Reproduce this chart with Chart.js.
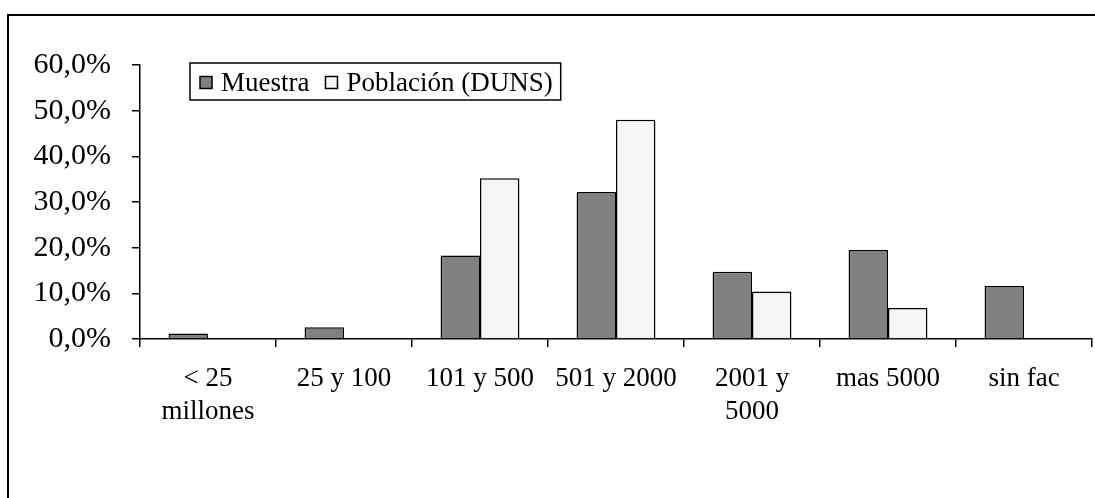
<!DOCTYPE html>
<html>
<head>
<meta charset="utf-8">
<script src="https://cdn.jsdelivr.net/npm/chart.js@4.4.1/dist/chart.umd.min.js"></script>
<style>
  html, body { margin: 0; padding: 0; background: #fff; }
  #wrap { position: relative; width: 1095px; height: 498px; }
  canvas { display: block; }
</style>
</head>
<body>
<div id="wrap"><canvas id="c" width="1095" height="498"></canvas></div>
<script>
// Facturación (millones) por tramo: muestra frente a población DUNS, en %
const categories = [['< 25', 'millones'], '25 y 100', '101 y 500', '501 y 2000', ['2001 y', '5000'], 'mas 5000', 'sin fac'];
const seriesNames = ['Muestra', 'Población (DUNS)'];
const muestra = [1.2, 2.6, 18.3, 32.2, 14.7, 19.5, 11.6];
const poblacion = [null, null, 35.2, 48.0, 10.4, 6.8, null];
const yTickValues = [0, 10, 20, 30, 40, 50, 60];

const FONT = '"Liberation Serif", "Times New Roman", serif';
const fmtPct = v => v.toFixed(1).replace('.', ',') + '%';

// white page plus the outer frame (left and top edges)
const framePlugin = {
  id: 'frame',
  beforeDraw(chart) {
    const ctx = chart.ctx;
    ctx.save();
    ctx.fillStyle = '#fff';
    ctx.fillRect(0, 0, chart.width, chart.height);
    ctx.restore();
  },
  afterDraw(chart) {
    const ctx = chart.ctx;
    ctx.save();
    ctx.strokeStyle = '#000';
    ctx.lineWidth = 2;
    ctx.beginPath();
    ctx.moveTo(8, chart.height);
    ctx.lineTo(8, 15);
    ctx.lineTo(chart.width, 15);
    ctx.stroke();
    ctx.restore();
  }
};

// boxed legend inside the plot, built from the datasets
const boxLegend = {
  id: 'boxLegend',
  afterDraw(chart) {
    const ctx = chart.ctx;
    const x0 = 190, y0 = 63, h = 37;
    const sw = 12, gapText = 9, gapItem = 16, padL = 10, padR = 8;
    ctx.save();
    ctx.font = '27px ' + FONT;
    ctx.textBaseline = 'middle';
    const items = chart.data.datasets.map(ds => ({ label: ds.label, fill: ds.backgroundColor, w: ctx.measureText(ds.label).width }));
    let total = padL + padR;
    items.forEach((it, i) => { total += sw + gapText + it.w + (i < items.length - 1 ? gapItem : 0); });
    ctx.fillStyle = '#fff';
    ctx.fillRect(x0, y0, total, h);
    ctx.strokeStyle = '#000';
    ctx.lineWidth = 1.5;
    ctx.strokeRect(x0, y0, total, h);
    let x = x0 + padL;
    const cy = y0 + h / 2 + 1;
    items.forEach(it => {
      ctx.fillStyle = it.fill;
      ctx.fillRect(x, cy - sw / 2, sw, sw);
      ctx.strokeStyle = '#000';
      ctx.lineWidth = 1.5;
      ctx.strokeRect(x, cy - sw / 2, sw, sw);
      x += sw + gapText;
      ctx.fillStyle = '#000';
      ctx.fillText(it.label, x, cy + 1);
      x += it.w + gapItem;
    });
    ctx.restore();
  }
};

new Chart(document.getElementById('c'), {
  type: 'bar',
  data: {
    labels: categories,
    datasets: [
      { label: seriesNames[0], data: muestra, backgroundColor: '#808080', borderColor: '#000', borderWidth: 1.5 },
      { label: seriesNames[1], data: poblacion, backgroundColor: '#f5f5f5', borderColor: '#000', borderWidth: 1.5 }
    ]
  },
  options: {
    responsive: false,
    devicePixelRatio: 1,
    animation: false,
    categoryPercentage: 0.58,
    barPercentage: 1.0,
    layout: { padding: { left: 0, top: 65, right: 3, bottom: 0 } },
    plugins: { legend: { display: false }, tooltip: { enabled: false } },
    scales: {
      x: {
        grid: { offset: true, drawOnChartArea: false, drawTicks: true, tickLength: 8, color: '#000', lineWidth: 1.5 },
        border: { display: true, color: '#000', width: 1.5 },
        ticks: { color: '#000', font: { family: FONT, size: 27, lineHeight: 1.2 }, padding: 16, maxRotation: 0, autoSkip: false },
        afterFit(scale) { scale.height = 498 - 339; }
      },
      y: {
        min: 0, max: 60,
        afterBuildTicks(scale) { scale.ticks = yTickValues.map(v => ({ value: v })); },
        grid: { drawOnChartArea: false, drawTicks: true, tickLength: 8, color: '#000', lineWidth: 1.5 },
        border: { display: true, color: '#000', width: 1.5 },
        ticks: { color: '#000', font: { family: FONT, size: 30 }, padding: 21, callback: v => fmtPct(v) },
        afterFit(scale) { scale.width = 140; }
      }
    }
  },
  plugins: [framePlugin, boxLegend]
});
</script>
</body>
</html>
